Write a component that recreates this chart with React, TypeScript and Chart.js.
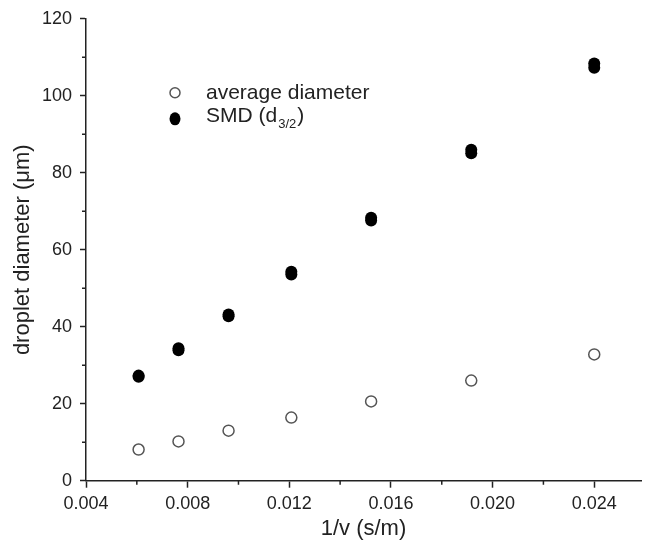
import React, { useEffect, useRef } from "react";
import { Chart, registerables } from "chart.js";

Chart.register(...registerables);

// ---- data ----
const inverseVelocity = [0.00607, 0.00764, 0.00961, 0.01208, 0.01522, 0.01916, 0.0240];
const averageDiameter = [8.1, 10.2, 13.0, 16.4, 20.6, 26.0, 32.8];
const smdRunA = [27.0, 33.9, 42.7, 53.6, 67.6, 85.1, 107.3];
const smdRunB = [27.3, 34.4, 43.2, 54.3, 68.3, 86.0, 108.4];

const xMajorTicks = [0.004, 0.008, 0.012, 0.016, 0.020, 0.024];
const xMinorTicks = [0.006, 0.010, 0.014, 0.018, 0.022];
const yMajorTicks = [0, 20, 40, 60, 80, 100, 120];
const yMinorTicks = [10, 30, 50, 70, 90, 110];

const avgLabel = "average diameter";
const smdLabel = "SMD (d";
const smdSub = "3/2";
const smdEnd = ")";
const xTitle = "1/v (s/m)";
const yTitle = "droplet diameter (\u03bcm)";

const FONT = "'Liberation Sans', Arial, Helvetica, sans-serif";
const AXIS = "#222222";
const TEXT = "#222222";

const minorTicksPlugin = {
  id: "minorTicks",
  afterDraw(chart: any) {
    const { ctx } = chart;
    const xs = chart.scales.x;
    const ys = chart.scales.y;
    ctx.save();
    ctx.strokeStyle = AXIS;
    ctx.lineWidth = 1.5;
    ctx.beginPath();
    for (const v of xMinorTicks) {
      const px = xs.getPixelForValue(v);
      ctx.moveTo(px, xs.top);
      ctx.lineTo(px, xs.top + 4);
    }
    for (const v of yMinorTicks) {
      const py = ys.getPixelForValue(v);
      ctx.moveTo(ys.right, py);
      ctx.lineTo(ys.right - 4, py);
    }
    ctx.stroke();
    ctx.restore();
  },
};

const legendPlugin = {
  id: "customLegend",
  afterDraw(chart: any) {
    const { ctx, chartArea } = chart;
    const sx = chartArea.left + 89;
    const y1 = chartArea.top + 74;
    const y2 = chartArea.top + 100;
    const tx = chartArea.left + 120;
    ctx.save();
    // open circle
    ctx.beginPath();
    ctx.arc(sx, y1, 5, 0, Math.PI * 2);
    ctx.fillStyle = "#ffffff";
    ctx.fill();
    ctx.lineWidth = 1.5;
    ctx.strokeStyle = "#555555";
    ctx.stroke();
    // filled circle
    ctx.beginPath();
    ctx.ellipse(sx, y2, 5.5, 6.5, 0, 0, Math.PI * 2);
    ctx.fillStyle = "#000000";
    ctx.fill();
    // texts
    ctx.fillStyle = TEXT;
    ctx.textBaseline = "middle";
    ctx.textAlign = "left";
    ctx.font = `21px ${FONT}`;
    ctx.fillText(avgLabel, tx, y1);
    ctx.fillText(smdLabel, tx, y2 - 3);
    const w = ctx.measureText(smdLabel).width;
    ctx.font = `13px ${FONT}`;
    ctx.fillText(smdSub, tx + w + 1, y2 + 6);
    const w2 = ctx.measureText(smdSub).width;
    ctx.font = `21px ${FONT}`;
    ctx.fillText(smdEnd, tx + w + w2 + 2, y2 - 3);
    ctx.restore();
  },
};

export default function App() {
  const ref = useRef<HTMLCanvasElement | null>(null);

  useEffect(() => {
    if (!ref.current) return;
    const toPts = (ys: number[]) => inverseVelocity.map((x, i) => ({ x, y: ys[i] }));
    const chart = new Chart(ref.current, {
      type: "scatter",
      data: {
        datasets: [
          {
            label: avgLabel,
            data: toPts(averageDiameter),
            pointRadius: 5.5,
            pointBorderWidth: 1.5,
            pointBorderColor: "#555555",
            pointBackgroundColor: "#ffffff",
            pointStyle: "circle",
          },
          {
            label: "SMD (d3/2)",
            data: toPts(smdRunA),
            pointRadius: 6,
            pointBorderWidth: 0,
            pointBackgroundColor: "#000000",
            pointBorderColor: "#000000",
          },
          {
            label: "SMD (d3/2) repeat",
            data: toPts(smdRunB),
            pointRadius: 6,
            pointBorderWidth: 0,
            pointBackgroundColor: "#000000",
            pointBorderColor: "#000000",
          },
        ],
      },
      options: {
        responsive: false,
        animation: false,
        devicePixelRatio: 1,
        layout: { padding: { top: 15, right: 0, bottom: 0, left: 0 } },
        plugins: {
          legend: { display: false },
          tooltip: { enabled: false },
        },
        scales: {
          x: {
            type: "linear",
            position: "bottom",
            min: 0.004,
            max: 0.02584,
            afterBuildTicks: (s: any) => {
              s.ticks = xMajorTicks.map((value) => ({ value }));
            },
            afterFit: (s: any) => {
              s.height = 71.3;
            },
            grid: {
              display: true,
              drawOnChartArea: false,
              drawTicks: true,
              tickLength: 7,
              tickColor: AXIS,
              tickWidth: 1.5,
            },
            border: { display: true, color: AXIS, width: 1.5 },
            ticks: {
              color: TEXT,
              font: { family: FONT, size: 18 },
              padding: 6,
              maxRotation: 0,
              autoSkip: false,
              callback: (v: any) => Number(v).toFixed(3),
            },
            title: {
              display: true,
              text: xTitle,
              color: TEXT,
              font: { family: FONT, size: 22 },
              padding: { top: 0, bottom: 10 },
            },
          },
          y: {
            type: "linear",
            position: "left",
            min: 0,
            max: 120,
            afterBuildTicks: (s: any) => {
              s.ticks = yMajorTicks.map((value) => ({ value }));
            },
            afterFit: (s: any) => {
              s.width = 86;
            },
            grid: {
              display: true,
              drawOnChartArea: false,
              drawTicks: true,
              tickLength: 6,
              tickColor: AXIS,
              tickWidth: 1.5,
            },
            border: { display: true, color: AXIS, width: 1.5 },
            ticks: {
              color: TEXT,
              font: { family: FONT, size: 18 },
              padding: 8,
              autoSkip: false,
              callback: (v: any) => String(v),
            },
            title: {
              display: true,
              text: yTitle,
              color: TEXT,
              font: { family: FONT, size: 22 },
              padding: { top: 10, bottom: 0 },
            },
          },
        },
      },
      plugins: [minorTicksPlugin, legendPlugin],
    });
    return () => chart.destroy();
  }, []);

  return (
    <div style={{ position: "absolute", left: 0, top: 0, width: 648, height: 552, background: "#ffffff" }}>
      <canvas ref={ref} width={648} height={552} />
    </div>
  );
}
